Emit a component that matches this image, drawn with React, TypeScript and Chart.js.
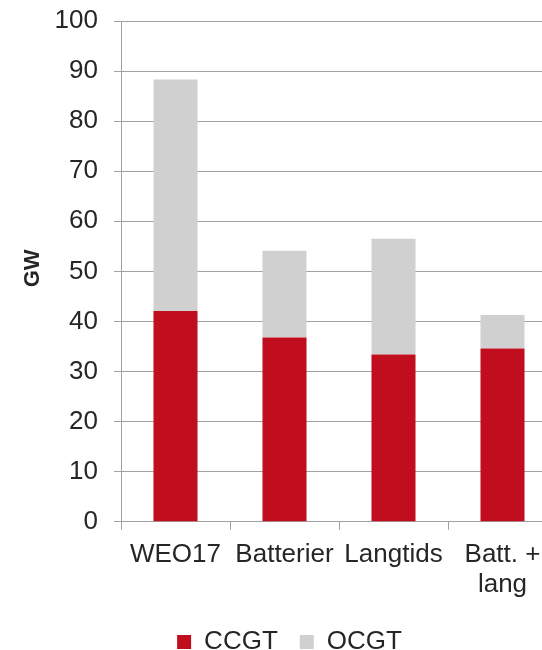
import React, { useEffect, useRef } from "react";
import { Chart, registerables } from "chart.js";

Chart.register(...registerables);

const categories: (string | string[])[] = ["WEO17", "Batterier", "Langtids", ["Batt. +", "lang"]];
const ccgtValues = [42.1, 36.8, 33.4, 34.6];
const ocgtValues = [46.2, 17.3, 23.1, 6.7];
const yAxisTitle = " GW";
const seriesNames = ["CCGT", "OCGT"];

const FONT = "'Liberation Sans', Arial, sans-serif";
const TEXT = "#262626";
const GRID = "#A0A0A0";

export default function App() {
  const ref = useRef<HTMLCanvasElement | null>(null);
  useEffect(() => {
    if (!ref.current) return;
    const chart = new Chart(ref.current, {
      type: "bar",
      data: {
        labels: categories,
        datasets: [
          {
            label: seriesNames[0],
            data: ccgtValues,
            backgroundColor: "#C10E1E",
            borderWidth: 0,
            barPercentage: 0.404,
            categoryPercentage: 1,
          },
          {
            label: seriesNames[1],
            data: ocgtValues,
            backgroundColor: "#D0D0D0",
            borderWidth: 0,
            barPercentage: 0.404,
            categoryPercentage: 1,
          },
        ],
      },
      options: {
        animation: false,
        responsive: false,
        devicePixelRatio: 1,
        layout: { padding: { left: 22, top: 21, right: 0, bottom: 0 } },
        plugins: {
          tooltip: { enabled: false },
          legend: {
            position: "bottom",
            labels: {
              boxWidth: 14,
              boxHeight: 14,
              padding: 22,
              color: TEXT,
              font: { family: FONT, size: 26, lineHeight: 1 },
            },
          },
        },
        scales: {
          x: {
            stacked: true,
            afterFit: (scale: any) => {
              scale.height = scale.height - 3;
            },
            grid: {
              display: true,
              drawOnChartArea: false,
              drawTicks: true,
              tickLength: 8,
              color: GRID,
              lineWidth: 1,
              offset: true,
            },
            border: { display: true, color: GRID, width: 1 },
            ticks: {
              color: TEXT,
              padding: 11,
              maxRotation: 0,
              autoSkip: false,
              font: { family: FONT, size: 26, lineHeight: 1.12 },
            },
          },
          y: {
            stacked: true,
            min: 0,
            max: 100,
            afterFit: (scale: any) => {
              scale.width = 99;
              scale.paddingTop = 0;
              scale.paddingBottom = 0;
            },
            grid: {
              color: GRID,
              lineWidth: 1,
              drawTicks: true,
              tickLength: 7,
            },
            border: { display: true, color: GRID, width: 1 },
            ticks: {
              stepSize: 10,
              color: TEXT,
              padding: 16,
              font: { family: FONT, size: 26 },
            },
            title: {
              display: true,
              text: yAxisTitle,
              color: TEXT,
              padding: { top: 0, bottom: 0 },
              font: { family: FONT, size: 22, weight: "bold", lineHeight: 1 },
            },
          },
        },
      },
    });
    return () => chart.destroy();
  }, []);

  return (
    <div
      style={{
        position: "fixed",
        left: 0,
        top: 0,
        width: 542,
        height: 650,
        overflow: "hidden",
        background: "#fff",
      }}
    >
      <canvas ref={ref} width={557} height={665} style={{ display: "block", width: 557, height: 665 }} />
    </div>
  );
}
